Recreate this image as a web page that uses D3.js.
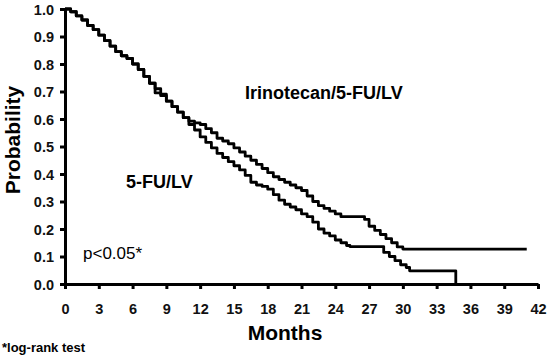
<!DOCTYPE html>
<html><head><meta charset="utf-8">
<script src="https://cdn.jsdelivr.net/npm/d3@7"></script>
<style>body{margin:0;background:#fff;}svg{display:block;font-family:"Liberation Sans",Arial,sans-serif;}</style>
</head><body>
<svg id="c" width="552" height="360"></svg>
<script>
const xTicks = [0,3,6,9,12,15,18,21,24,27,30,33,36,39,42];
const yTicks = [0,0.1,0.2,0.3,0.4,0.5,0.6,0.7,0.8,0.9,1.0];
const irinoTime = [0,0.5,1,1.5,2,2.5,3,3.5,4,4.5,5,5.5,6,6.5,7,7.5,8,8.5,9,9.5,10,10.5,11,11.5,12,12.5,13,13.5,14,14.5,15,15.5,16,16.5,17,17.5,18,18.5,19,19.5,20,20.5,21,21.5,22,22.5,23,23.5,24,24.5,26.6,27,27.5,28,28.5,29,29.5,30,41];
const irinoSurv = [1.0,0.99,0.975,0.96,0.94,0.925,0.905,0.885,0.865,0.845,0.83,0.82,0.80,0.78,0.755,0.73,0.71,0.69,0.665,0.645,0.625,0.605,0.592,0.586,0.58,0.565,0.55,0.53,0.52,0.51,0.495,0.48,0.465,0.45,0.435,0.42,0.405,0.39,0.38,0.37,0.36,0.35,0.34,0.32,0.30,0.285,0.275,0.265,0.255,0.245,0.235,0.21,0.195,0.18,0.165,0.15,0.135,0.127,0.127];
const fuTime = [0,0.5,1,1.5,2,2.5,3,3.5,4,4.5,5,5.5,6,6.5,7,7.5,8,8.5,9,9.5,10,10.5,11,11.5,12,12.5,13,13.5,14,14.5,15,15.5,16,16.5,17,17.5,18,18.5,19,19.5,20,20.5,21,21.5,22,22.5,23,23.5,24,24.5,25,25.3,28.3,28.8,29.3,29.8,30.3,30.6,34.7,34.71];
const fuSurv = [1.0,0.99,0.975,0.96,0.94,0.925,0.905,0.885,0.865,0.845,0.83,0.82,0.80,0.78,0.755,0.73,0.695,0.685,0.665,0.645,0.625,0.605,0.58,0.56,0.535,0.515,0.495,0.475,0.46,0.445,0.43,0.415,0.395,0.37,0.36,0.355,0.345,0.325,0.305,0.29,0.28,0.27,0.255,0.245,0.225,0.20,0.185,0.175,0.16,0.15,0.14,0.136,0.115,0.10,0.085,0.07,0.06,0.048,0.0,0.0];

const svg = d3.select("#c");
const x = d3.scaleLinear().domain([0,42]).range([65,538]);
const y = d3.scaleLinear().domain([0,1]).range([284,9]);

const line = d3.line().x(d=>x(d[0])).y(d=>y(d[1])).curve(d3.curveStepAfter);
const irino = irinoTime.map((t,i)=>[t,irinoSurv[i]]);
const fu = fuTime.map((t,i)=>[t,fuSurv[i]]);

[irino, fu].forEach(data=>{
  svg.append("path").datum(data).attr("d",line)
    .attr("fill","none").attr("stroke","#000").attr("stroke-width",2.8).attr("stroke-linejoin","round");
});

const xa = svg.append("g").attr("transform","translate(0,284)")
  .call(d3.axisBottom(x).tickValues(xTicks).tickFormat(d3.format("d")).tickSize(5).tickSizeOuter(0).tickPadding(15));
const ya = svg.append("g").attr("transform","translate(65,0)")
  .call(d3.axisLeft(y).tickValues(yTicks).tickFormat(d3.format(".1f")).tickSize(5).tickSizeOuter(0).tickPadding(6));
[xa,ya].forEach(a=>{
  a.select(".domain").attr("stroke","#000").attr("stroke-width",3);
  a.selectAll(".tick line").attr("stroke","#000").attr("stroke-width",3);
  a.selectAll(".tick text").attr("fill","#111").attr("font-size",14.5).attr("font-weight","bold")
    .attr("font-family","Liberation Sans, Arial, sans-serif");
});
ya.selectAll(".tick text").attr("dy","0.36em");

svg.append("text").attr("transform","translate(20,140) rotate(-90)").attr("text-anchor","middle")
  .attr("font-size",21).attr("font-weight","bold").text("Probability");
svg.append("text").attr("x",285).attr("y",340).attr("text-anchor","middle")
  .attr("font-size",21).attr("font-weight","bold").text("Months");
svg.append("text").attr("x",2).attr("y",352)
  .attr("font-size",13).attr("font-weight","bold").text("*log-rank test");
svg.append("text").attr("x",245).attr("y",99)
  .attr("font-size",18).attr("font-weight","bold").text("Irinotecan/5-FU/LV");
svg.append("text").attr("x",126).attr("y",188)
  .attr("font-size",18).attr("font-weight","bold").text("5-FU/LV");
svg.append("text").attr("x",83).attr("y",259)
  .attr("font-size",17).text("p<0.05*");
</script>
</body></html>
